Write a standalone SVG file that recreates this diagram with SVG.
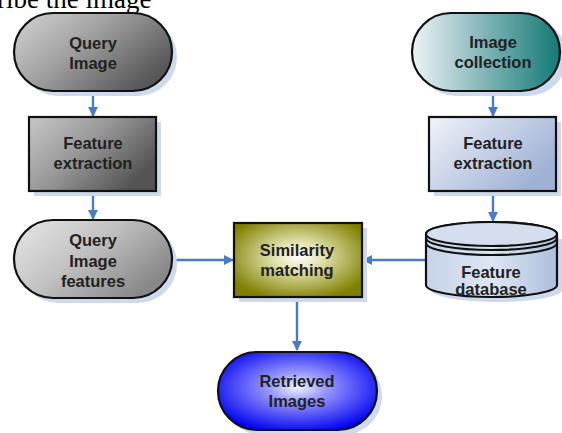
<svg xmlns="http://www.w3.org/2000/svg" width="562" height="433" viewBox="0 0 562 433">
<defs>
<linearGradient id="gGray1" x1="0" y1="0" x2="1" y2="0.6">
<stop offset="0" stop-color="#d4d4d4"/><stop offset="0.45" stop-color="#a4a4a4"/><stop offset="1" stop-color="#585858"/>
</linearGradient>
<linearGradient id="gGray2" x1="0" y1="0" x2="1" y2="0.6">
<stop offset="0" stop-color="#c8c8c8"/><stop offset="0.5" stop-color="#979797"/><stop offset="1" stop-color="#545454"/>
</linearGradient>
<linearGradient id="gGray3" x1="0" y1="0" x2="1" y2="0.6">
<stop offset="0" stop-color="#e8e8e8"/><stop offset="0.5" stop-color="#c2c2c2"/><stop offset="1" stop-color="#888888"/>
</linearGradient>
<linearGradient id="gTeal" x1="0" y1="0" x2="1" y2="0">
<stop offset="0" stop-color="#eef3f6"/><stop offset="0.5" stop-color="#7fb3b6"/><stop offset="1" stop-color="#137a75"/>
</linearGradient>
<linearGradient id="gBlueL" x1="0" y1="0" x2="1" y2="0.6">
<stop offset="0" stop-color="#f0f3fa"/><stop offset="1" stop-color="#9fb1d4"/>
</linearGradient>
<linearGradient id="gCyl" x1="0" y1="0" x2="1" y2="0">
<stop offset="0" stop-color="#c6d3e8"/><stop offset="0.5" stop-color="#dde6f3"/><stop offset="1" stop-color="#aebfdc"/>
</linearGradient>
<radialGradient id="gOlive" cx="0.5" cy="0.45" r="0.6">
<stop offset="0" stop-color="#ffffff"/><stop offset="0.3" stop-color="#e4e4b4"/><stop offset="1" stop-color="#808000"/>
</radialGradient>
<radialGradient id="gBlue" cx="0.5" cy="0.45" r="0.6">
<stop offset="0" stop-color="#f4f4ff"/><stop offset="0.3" stop-color="#9a9aff"/><stop offset="1" stop-color="#0000f0"/>
</radialGradient>
<marker id="arr" viewBox="0 0 10 10" refX="9" refY="5" markerWidth="10" markerHeight="10" markerUnits="userSpaceOnUse" orient="auto">
<path d="M0,0 L10,5 L0,10 Z" fill="#4a7cc4"/>
</marker>
</defs>
<style>
.sh{fill:#cdd9ec;}
.ol{stroke:#111;stroke-width:2.2;}
.t{font-family:"Liberation Sans",Arial,sans-serif;font-weight:bold;font-size:16.5px;fill:#222;text-anchor:middle;}
.c{stroke:#4a7cc4;stroke-width:2.4;fill:none;}
</style>
<text x="-3" y="8" font-family="Liberation Serif,serif" font-size="27" fill="#000">ribe the image</text>

<g id="connectors">
<path class="c" d="M93,92 L93,116" marker-end="url(#arr)"/>
<path class="c" d="M93,192 L93,219" marker-end="url(#arr)"/>
<path class="c" d="M493,92 L493,116" marker-end="url(#arr)"/>
<path class="c" d="M493,192 L493,221" marker-end="url(#arr)"/>
<path class="c" d="M173,260 L233,260" marker-end="url(#arr)"/>
<path class="c" d="M426,260 L363,260" marker-end="url(#arr)"/>
<path class="c" d="M297,298 L297,350" marker-end="url(#arr)"/>
</g>

<g id="query-image">
<rect class="sh" x="19" y="18" width="158" height="78" rx="39"/>
<rect class="ol" x="14" y="13" width="158" height="78" rx="39" fill="url(#gGray1)"/>
<text class="t" x="93" y="49">Query</text>
<text class="t" x="93" y="69">Image</text>
</g>

<g id="feature-extraction-left">
<rect class="sh" x="34" y="122" width="127" height="74"/>
<rect class="ol" x="29" y="117" width="127" height="74" fill="url(#gGray2)"/>
<text class="t" x="93" y="149">Feature</text>
<text class="t" x="93" y="169">extraction</text>
</g>

<g id="query-image-features">
<rect class="sh" x="19" y="225" width="158" height="78" rx="39"/>
<rect class="ol" x="14" y="220" width="158" height="78" rx="39" fill="url(#gGray3)"/>
<text class="t" x="93" y="246">Query</text>
<text class="t" x="93" y="267">Image</text>
<text class="t" x="93" y="287">features</text>
</g>

<g id="image-collection">
<rect class="sh" x="417" y="18" width="150" height="78" rx="39"/>
<rect class="ol" x="412" y="13" width="148" height="78" rx="39" fill="url(#gTeal)"/>
<text class="t" x="493" y="48">Image</text>
<text class="t" x="493" y="68">collection</text>
</g>

<g id="feature-extraction-right">
<rect class="sh" x="434" y="122" width="127" height="74"/>
<rect class="ol" x="429" y="117" width="127" height="74" fill="url(#gBlueL)"/>
<text class="t" x="493" y="149">Feature</text>
<text class="t" x="493" y="169">extraction</text>
</g>

<g id="feature-database">
<path class="sh" d="M431,239 L431,290 A65.5,12 0 0 0 562,290 L562,239 Z"/>
<path class="ol" d="M426,234 L426,285 A65.5,12 0 0 0 557,285 L557,234 A65.5,12 0 0 0 426,234 Z" fill="url(#gCyl)"/>
<ellipse class="ol" cx="491.5" cy="234" rx="65.5" ry="12" fill="#d4deee"/>
<path class="ol" d="M426,238 A65.5,12 0 0 0 557,238" fill="none"/>
<path class="ol" d="M426,243 A65.5,12 0 0 0 557,243" fill="none"/>
<text class="t" x="491" y="278">Feature</text>
<text class="t" x="491" y="295">database</text>
</g>

<g id="similarity-matching">
<rect class="sh" x="239" y="228" width="128" height="74"/>
<rect class="ol" x="234" y="223" width="128" height="74" fill="url(#gOlive)"/>
<text class="t" x="297" y="256">Similarity</text>
<text class="t" x="297" y="276">matching</text>
</g>

<g id="retrieved-images">
<rect class="sh" x="223" y="357" width="159" height="78" rx="39"/>
<rect class="ol" x="218" y="352" width="159" height="78" rx="39" fill="url(#gBlue)"/>
<text class="t" x="297" y="387">Retrieved</text>
<text class="t" x="297" y="407">Images</text>
</g>
</svg>
